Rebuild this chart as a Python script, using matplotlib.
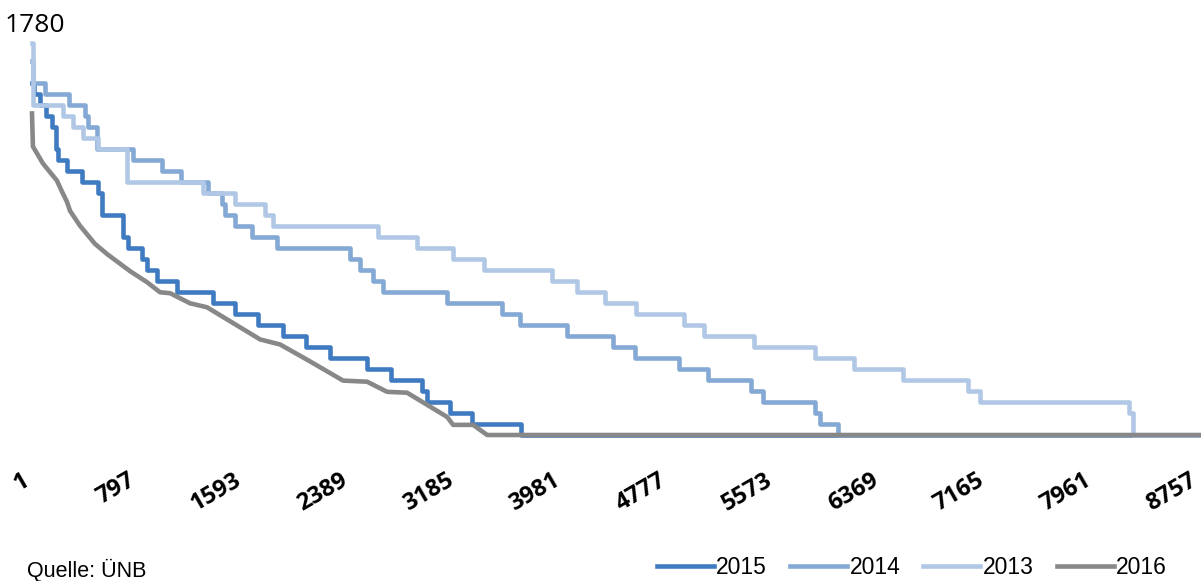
import matplotlib
matplotlib.use("Agg")
import matplotlib.pyplot as plt
from matplotlib.transforms import ScaledTranslation
from matplotlib.lines import Line2D

# Dauerlinien (Stunden, MW)
h2015 = [1, 16, 61, 106, 151, 181, 196, 263, 376, 496, 526, 683, 721, 826, 863, 938, 1088,
         1358, 1523, 1696, 1883, 2056, 2236, 2513, 2693, 2926, 2963, 3136, 3301, 3668, 8757]
v2015 = [1600, 1550, 1500, 1450, 1400, 1300, 1250, 1200, 1150, 1100, 1000, 900, 850, 800, 750, 700, 650,
         600, 550, 500, 450, 400, 350, 300, 250, 200, 150, 100, 50, 0, 0]

h2014 = [1, 12, 98, 278, 398, 421, 488, 758, 976, 1118, 1321, 1426, 1448, 1523, 1651, 1838, 2386,
         2461, 2558, 2633, 3113, 3526, 3661, 4013, 4358, 4523, 4853, 5071, 5393, 5483, 5873, 5911, 6046, 8757]
v2014 = [1700, 1600, 1550, 1500, 1450, 1400, 1300, 1250, 1200, 1150, 1100, 1050, 1000, 950, 900, 850, 800,
         750, 700, 650, 600, 550, 500, 450, 400, 350, 300, 250, 200, 150, 100, 50, 0, 0]

h2013 = [1, 5, 233, 308, 383, 496, 713, 1283, 1523, 1748, 1808, 2596, 2888, 3158, 3391, 3901, 4088,
         4298, 4531, 4891, 5041, 5416, 5873, 6166, 6533, 7021, 7111, 8221, 8251, 8757]
v2013 = [1780, 1500, 1450, 1400, 1350, 1300, 1150, 1100, 1050, 1000, 950, 900, 850, 800, 750, 700, 650,
         600, 550, 500, 450, 400, 350, 300, 250, 200, 150, 100, 0, 0]

h2016 = [1, 8, 83, 188, 226, 263, 286, 361, 473, 563, 736, 863, 961, 1036, 1186, 1313, 1463, 1613,
         1711, 1861, 2063, 2333, 2513, 2663, 2813, 3113, 3158, 3308, 3413, 8757]
v2016 = [1460, 1310, 1233, 1155, 1105, 1059, 1018, 950, 868, 822, 744, 694, 648, 644, 598, 580, 525, 470,
         434, 411, 342, 247, 242, 196, 192, 82, 46, 46, 0, 0]

xticks = [1, 797, 1593, 2389, 3185, 3981, 4777, 5573, 6369, 7165, 7961, 8757]
ymax = 1780

c2015 = "#3f7bc1"
c2014 = "#84a9d4"
c2013 = "#b0c8e5"
c2016 = "#888888"
txtfont = ["Liberation Sans", "DejaVu Sans"]

fig = plt.figure(figsize=(12.01, 5.81), dpi=100)
ax = fig.add_axes([32 / 1201, 146 / 581, 1168 / 1201, 392 / 581])

lw = 3.3
ax.plot(h2015, v2015, drawstyle="steps-post", color=c2015, lw=lw, zorder=2, clip_on=False)
ax.plot(h2014, v2014, drawstyle="steps-post", color=c2014, lw=lw, zorder=3, clip_on=False)
ax.plot(h2013, v2013, drawstyle="steps-post", color=c2013, lw=lw, zorder=4, clip_on=False)
ax.plot(h2016, v2016, color=c2016, lw=lw, zorder=5, clip_on=False)

ax.set_xlim(1, 8757)
ax.set_ylim(0, ymax)
for s in ax.spines.values():
    s.set_visible(False)
ax.set_yticks([])
ax.set_xticks(xticks)
ax.set_xticklabels([str(t) for t in xticks], rotation=30, ha="right", va="top",
                   rotation_mode="anchor", fontsize=17, fontweight="bold", family="Open Sans")
ax.tick_params(axis="x", length=0, pad=24)
off = ScaledTranslation(-11 / 100, 0, fig.dpi_scale_trans)
for lab in ax.get_xticklabels():
    lab.set_transform(lab.get_transform() + off)

fig.text(35 / 1201, 1 - 26 / 581, str(ymax), ha="center", va="center", fontsize=19, family="Open Sans")

handles = [Line2D([], [], color=c, lw=lw) for c in (c2015, c2014, c2013, c2016)]
fig.legend(handles, ["2015", "2014", "2013", "2016"], loc="center right",
           bbox_to_anchor=(1167 / 1201, 1 - 568 / 581), ncol=4, frameon=False,
           prop={"family": txtfont, "size": 16.5}, handlelength=2.5, handletextpad=0.1,
           columnspacing=1.0, borderpad=0, borderaxespad=0)

fig.text(27 / 1201, 1 - 570 / 581, "Quelle: ÜNB", ha="left", va="center", fontsize=15.5, family=txtfont)

fig.savefig("out.png", dpi=100)
